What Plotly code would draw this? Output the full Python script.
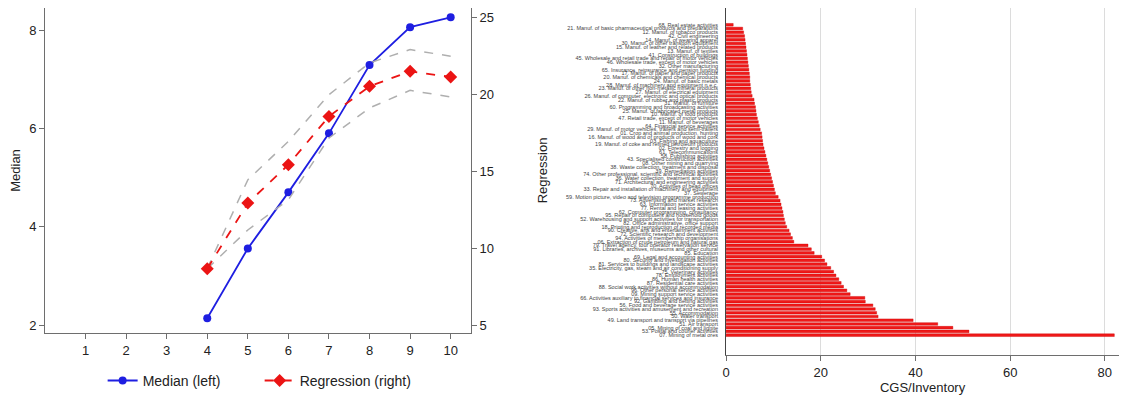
import plotly.graph_objects as go

# ---------------- left panel data ----------------
deciles = [4, 5, 6, 7, 8, 9, 10]
median_left = [2.14, 3.56, 4.70, 5.90, 7.29, 8.06, 8.26]
regression_right = [8.70, 12.95, 15.44, 18.57, 20.52, 21.49, 21.13]
reg_upper = [8.70, 14.46, 16.95, 19.98, 22.04, 22.90, 22.47]
reg_lower = [8.70, 11.21, 13.16, 17.17, 19.12, 20.26, 19.83]
x_ticks = [1, 2, 3, 4, 5, 6, 7, 8, 9, 10]
left_ticks = [2, 4, 6, 8]
right_ticks = [5, 10, 15, 20, 25]

# ---------------- right panel data (top to bottom) ----------------
industries = [
    "68. Real estate activities",
    "21. Manuf. of basic pharmaceutical products and preparations",
    "12. Manuf. of tobacco products",
    "42. Civil engineering",
    "14. Manuf. of wearing apparel",
    "30. Manuf. of other transport equipment",
    "15. Manuf. of leather and related products",
    "13. Manuf. of textiles",
    "41. Construction of buildings",
    "45. Wholesale and retail trade and repair of motor vehicles",
    "46. Wholesale trade, except of motor vehicles",
    "32. Other manufacturing",
    "65. Insurance, reinsurance and pension funding",
    "17. Manuf. of paper and paper products",
    "20. Manuf. of chemicals and chemical products",
    "24. Manuf. of basic metals",
    "28. Manuf. of machinery and equipment n.e.c.",
    "23. Manuf. of other non-metallic mineral products",
    "27. Manuf. of electrical equipment",
    "26. Manuf. of computer, electronic and optical products",
    "22. Manuf. of rubber and plastic products",
    "31. Manuf. of furniture",
    "60. Programming and broadcasting activities",
    "25. Manuf. of fabricated metal products",
    "10. Manuf. of food products",
    "47. Retail trade, except of motor vehicles",
    "11. Manuf. of beverages",
    "64. Financial service activities",
    "29. Manuf. of motor vehicles, trailers and semi-trailers",
    "01. Crop and animal production, hunting",
    "16. Manuf. of wood and of products of wood and cork",
    "03. Fishing and aquaculture",
    "19. Manuf. of coke and refined petroleum products",
    "02. Forestry and logging",
    "61. Telecommunications",
    "58. Publishing activities",
    "43. Specialised construction activities",
    "08. Other mining and quarrying",
    "38. Waste collection, treatment and disposal",
    "39. Remediation activities",
    "74. Other professional, scientific and technical activities",
    "36. Water collection, treatment and supply",
    "71. Architectural and engineering activities",
    "70. Activities of head offices",
    "33. Repair and installation of machinery and equipment",
    "37. Sewerage",
    "59. Motion picture, video and television programme production",
    "73. Advertising and market research",
    "63. Information service activities",
    "77. Rental and leasing activities",
    "62. Computer programming, consultancy",
    "95. Repair of computers and household goods",
    "52. Warehousing and support activities for transportation",
    "82. Office administrative, office support",
    "18. Printing and reproduction of recorded media",
    "90. Creative, arts and entertainment activities",
    "72. Scientific research and development",
    "94. Activities of membership organisations",
    "06. Extraction of crude petroleum and natural gas",
    "79. Travel agency, tour operator reservation service",
    "91. Libraries, archives, museums and other cultural",
    "85. Education",
    "69. Legal and accounting activities",
    "80. Security and investigation activities",
    "81. Services to buildings and landscape activities",
    "35. Electricity, gas, steam and air conditioning supply",
    "75. Veterinary activities",
    "78. Employment activities",
    "86. Human health activities",
    "87. Residential care activities",
    "88. Social work activities without accommodation",
    "96. Other personal service activities",
    "09. Mining support service activities",
    "66. Activities auxiliary to financial services and insurance",
    "92. Gambling and betting activities",
    "56. Food and beverage service activities",
    "93. Sports activities and amusement and recreation",
    "55. Accommodation",
    "50. Water transport",
    "49. Land transport and transport via pipelines",
    "51. Air transport",
    "05. Mining of coal and lignite",
    "53. Postal and courier activities",
    "07. Mining of metal ores",
]
cgs_inventory = [
    1.5, 3.5, 3.7, 3.9, 4.0, 4.1, 4.2, 4.3, 4.4, 4.5,
    4.6, 4.7, 4.8, 4.9, 5.0, 5.0, 5.1, 5.2, 5.3, 5.5,
    5.9, 6.0, 6.2, 6.3, 6.4, 6.6, 6.8, 7.0, 7.2, 7.5,
    7.6, 7.7, 7.8, 8.0, 8.2, 8.4, 8.6, 8.8, 9.0, 9.2,
    9.4, 9.6, 9.8, 10.0, 10.2, 10.4, 11.0, 11.4, 11.6, 11.8,
    12.0, 12.1, 12.3, 12.5, 12.8, 13.3, 13.6, 14.0, 14.3, 17.3,
    18.0, 18.6, 20.2, 20.8, 21.3, 22.1, 22.7, 23.2, 23.8, 24.3,
    24.8, 25.5, 26.2, 29.3, 29.4, 31.0, 31.5, 31.8, 32.1, 39.5,
    44.7, 47.9, 51.3, 82.0,
]
bar_ticks = [0, 20, 40, 60, 80]

FONT = "Liberation Sans, Arial, sans-serif"
AXIS_COL = "#6e6e6e"
TXT = "#222222"

fig = go.Figure()

# CI bands (gray dashed)
fig.add_trace(go.Scatter(x=deciles, y=reg_upper, mode="lines", yaxis="y2", xaxis="x",
                         line=dict(color="rgb(175,175,175)", width=1.5, dash="dash"),
                         showlegend=False, hoverinfo="skip"))
fig.add_trace(go.Scatter(x=deciles, y=reg_lower, mode="lines", yaxis="y2", xaxis="x",
                         line=dict(color="rgb(175,175,175)", width=1.5, dash="dash"),
                         showlegend=False, hoverinfo="skip"))
fig.add_trace(go.Scatter(x=deciles, y=median_left, mode="lines+markers", name="Median (left)",
                         xaxis="x", yaxis="y",
                         line=dict(color="rgb(30,30,225)", width=1.8),
                         marker=dict(symbol="circle", size=8, color="rgb(30,30,225)")))
fig.add_trace(go.Scatter(x=deciles, y=regression_right, mode="lines+markers", name="Regression (right)",
                         xaxis="x", yaxis="y2",
                         line=dict(color="rgb(235,20,20)", width=1.8, dash="dash"),
                         marker=dict(symbol="diamond", size=10, color="rgb(235,20,20)")))

fig.add_trace(go.Bar(x=cgs_inventory, y=industries, orientation="h", xaxis="x2", yaxis="y3",
                     marker=dict(color="rgb(240,25,25)", line=dict(color="rgb(205,0,0)", width=0.4)),
                     showlegend=False))

fig.update_layout(
    width=1124, height=398,
    margin=dict(l=0, r=0, t=0, b=0),
    paper_bgcolor="white", plot_bgcolor="white",
    font=dict(family=FONT, size=13, color=TXT),
    bargap=0.28,
    showlegend=True,
    legend=dict(orientation="h", x=0.231, y=0.043, xanchor="center", yanchor="middle",
                font=dict(size=14, color=TXT), bgcolor="rgba(0,0,0,0)",
                entrywidth=112, entrywidthmode="pixels"),
    xaxis=dict(domain=[0.04, 0.419], anchor="y", range=[0, 10.5], automargin=False,
               tickmode="array", tickvals=x_ticks, showgrid=False, zeroline=False,
               showline=True, linecolor=AXIS_COL, linewidth=1, ticks="outside",
               ticklen=5, tickcolor=AXIS_COL, tickfont=dict(size=13)),
    yaxis=dict(domain=[0.1633, 0.98], anchor="x", range=[1.84, 8.45], automargin=False,
               tickmode="array", tickvals=left_ticks, showgrid=False, zeroline=False,
               showline=True, linecolor=AXIS_COL, ticks="outside", ticklen=5,
               tickcolor=AXIS_COL, tickfont=dict(size=13),
               title=dict(text="Median", font=dict(size=13), standoff=5)),
    yaxis2=dict(overlaying="y", side="right", anchor="x", range=[4.53, 25.6], automargin=False,
                tickmode="array", tickvals=right_ticks, showgrid=False, zeroline=False,
                showline=True, linecolor=AXIS_COL, ticks="outside", ticklen=5,
                tickcolor=AXIS_COL, tickfont=dict(size=13),
                title=dict(text="Regression", font=dict(size=13), standoff=44)),
    xaxis2=dict(domain=[0.646, 0.9956], anchor="y3", range=[0, 83], automargin=False,
                tickmode="array", tickvals=bar_ticks, showgrid=True, gridcolor="#dcdcdc",
                zeroline=False, showline=True, linecolor=AXIS_COL, ticks="outside",
                ticklen=5, tickcolor=AXIS_COL, tickfont=dict(size=13),
                title=dict(text="CGS/Inventory", font=dict(size=13), standoff=2)),
    yaxis3=dict(domain=[0.108, 0.98], anchor="x2", type="category", automargin=False,
                range=[88.3, -4.5], tickmode="array", tickvals=industries, ticktext=industries,
                showgrid=False, zeroline=False, showline=True, linecolor="#444444",
                ticks="", tickfont=dict(size=5.5, color="#444444"), ticklabelstandoff=6),
)

fig.write_html("out.html", config={"displayModeBar": False},
               post_script="document.body.style.margin='0px';document.body.style.overflow='hidden';")
